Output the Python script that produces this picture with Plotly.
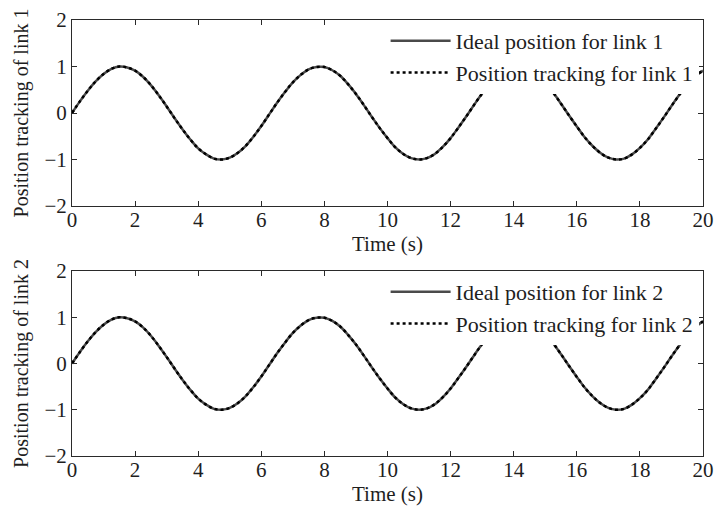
import plotly.graph_objects as go

time_s = [0.0, 0.25, 0.5, 0.75, 1.0, 1.25, 1.5, 1.75, 2.0, 2.25, 2.5, 2.75, 3.0, 3.25, 3.5, 3.75,
          4.0, 4.25, 4.5, 4.75, 5.0, 5.25, 5.5, 5.75, 6.0, 6.25, 6.5, 6.75, 7.0, 7.25, 7.5, 7.75,
          8.0, 8.25, 8.5, 8.75, 9.0, 9.25, 9.5, 9.75, 10.0, 10.25, 10.5, 10.75, 11.0, 11.25, 11.5, 11.75,
          12.0, 12.25, 12.5, 12.75, 13.0, 13.25, 13.5, 13.75, 14.0, 14.25, 14.5, 14.75, 15.0, 15.25, 15.5, 15.75,
          16.0, 16.25, 16.5, 16.75, 17.0, 17.25, 17.5, 17.75, 18.0, 18.25, 18.5, 18.75, 19.0, 19.25, 19.5, 19.75, 20.0]

ideal_link1 = [0.00, 0.25, 0.48, 0.68, 0.84, 0.95, 1.00, 0.98, 0.91, 0.78, 0.60, 0.38, 0.14, -0.11, -0.35, -0.57,
               -0.76, -0.89, -0.98, -1.00, -0.96, -0.86, -0.71, -0.51, -0.28, -0.03, 0.22, 0.45, 0.66, 0.82, 0.94, 0.99,
               0.99, 0.92, 0.80, 0.62, 0.41, 0.17, -0.08, -0.32, -0.54, -0.74, -0.88, -0.97, -1.00, -0.97, -0.88, -0.73,
               -0.54, -0.31, -0.07, 0.18, 0.42, 0.63, 0.80, 0.93, 0.99, 0.99, 0.93, 0.81, 0.65, 0.44, 0.20, -0.05,
               -0.29, -0.52, -0.71, -0.86, -0.96, -1.00, -0.98, -0.89, -0.75, -0.57, -0.34, -0.10, 0.15, 0.39, 0.61, 0.79, 0.91]
track_link1 = [0.00, 0.25, 0.48, 0.68, 0.84, 0.95, 1.00, 0.98, 0.91, 0.78, 0.60, 0.38, 0.14, -0.11, -0.35, -0.57,
               -0.76, -0.89, -0.98, -1.00, -0.96, -0.86, -0.71, -0.51, -0.28, -0.03, 0.22, 0.45, 0.66, 0.82, 0.94, 0.99,
               0.99, 0.92, 0.80, 0.62, 0.41, 0.17, -0.08, -0.32, -0.54, -0.74, -0.88, -0.97, -1.00, -0.97, -0.88, -0.73,
               -0.54, -0.31, -0.07, 0.18, 0.42, 0.63, 0.80, 0.93, 0.99, 0.99, 0.93, 0.81, 0.65, 0.44, 0.20, -0.05,
               -0.29, -0.52, -0.71, -0.86, -0.96, -1.00, -0.98, -0.89, -0.75, -0.57, -0.34, -0.10, 0.15, 0.39, 0.61, 0.79, 0.91]
ideal_link2 = list(ideal_link1)
track_link2 = list(track_link1)

x_ticks = [0, 2, 4, 6, 8, 10, 12, 14, 16, 18, 20]
y_ticks = [-2, -1, 0, 1, 2]

FONT = "Liberation Serif, Times New Roman, serif"
SOLID_COLOR = "#4a4a4a"
DOT_COLOR = "#000000"
AX_COLOR = "#2a2a2a"
TXT = "#1e1e1e"

fig = go.Figure()
fig.add_trace(go.Scatter(x=time_s, y=ideal_link1, mode="lines", name="Ideal position for link 1",
                         line=dict(color=SOLID_COLOR, width=2.5, shape="spline"),
                         xaxis="x", yaxis="y", legend="legend"))
fig.add_trace(go.Scatter(x=time_s, y=track_link1, mode="lines", name="Position tracking for link 1",
                         line=dict(color=DOT_COLOR, width=2.5, dash="dot", shape="spline"),
                         xaxis="x", yaxis="y", legend="legend"))
fig.add_trace(go.Scatter(x=time_s, y=ideal_link2, mode="lines", name="Ideal position for link 2",
                         line=dict(color=SOLID_COLOR, width=2.5, shape="spline"),
                         xaxis="x2", yaxis="y2", legend="legend2"))
fig.add_trace(go.Scatter(x=time_s, y=track_link2, mode="lines", name="Position tracking for link 2",
                         line=dict(color=DOT_COLOR, width=2.5, dash="dot", shape="spline"),
                         xaxis="x2", yaxis="y2", legend="legend2"))

def xax(anchor):
    return dict(range=[0, 20], tickvals=x_ticks, ticks="inside", ticklen=5, tickcolor=AX_COLOR,
                showline=True, linecolor=AX_COLOR, linewidth=1, mirror="ticks", showgrid=False,
                zeroline=False, anchor=anchor, tickfont=dict(size=21), ticklabelstandoff=-5,
                title=dict(text="Time (s)", font=dict(size=21), standoff=0))

def yax(anchor, domain, title):
    return dict(range=[-2, 2], tickvals=y_ticks, ticks="inside", ticklen=5, tickcolor=AX_COLOR,
                showline=True, linecolor=AX_COLOR, linewidth=1, mirror="ticks", showgrid=False,
                zeroline=False, anchor=anchor, domain=domain, tickfont=dict(size=21),
                title=dict(text=title, font=dict(size=20), standoff=10))

legend_common = dict(bgcolor="white", borderwidth=0, font=dict(size=22, family=FONT, color=TXT),
                     xanchor="left", yanchor="top", itemwidth=60, tracegroupgap=0,
                     itemclick=False)

fig.update_layout(
    width=717, height=509,
    margin=dict(l=72, r=14, t=20, b=53, autoexpand=False),
    paper_bgcolor="white", plot_bgcolor="white",
    font=dict(family=FONT, color=TXT, size=20),
    xaxis=xax("y"),
    yaxis=yax("x", [0.5734, 1.0], "Position tracking of link 1"),
    xaxis2=xax("y2"),
    yaxis2=yax("x2", [0.0, 0.4243], "Position tracking of link 2"),
    legend=dict(x=0.497, y=1.0, **legend_common),
    legend2=dict(x=0.497, y=0.4243, **legend_common),
)

fig.write_html("out.html")
